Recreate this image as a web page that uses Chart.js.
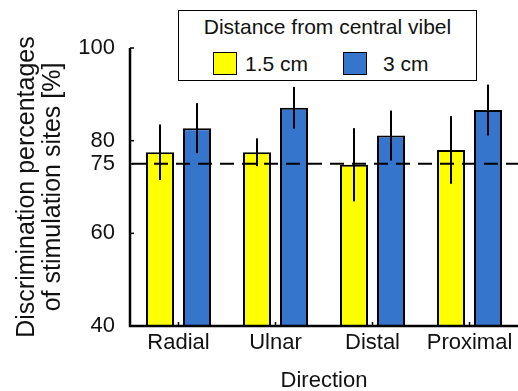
<!DOCTYPE html>
<html>
<head>
<meta charset="utf-8">
<script src="https://cdn.jsdelivr.net/npm/chart.js@4"></script>
<style>
    html, body { margin: 0; padding: 0; background: #fff; }
    #wrap { position: relative; width: 518px; height: 391px; }
    #leyenda {
        position: absolute; left: 178px; top: 10px; width: 299px; height: 71px;
        border: 1.5px solid #000; background: #fff; box-sizing: border-box;
        font-family: Arial, "Liberation Sans", sans-serif; font-size: 21px; color: #111;
    }
    #leyenda .titulo { position: absolute; left: 0; right: 0; top: 4px; text-align: center; }
    #leyenda .item { position: absolute; top: 41px; height: 23px; display: flex; align-items: center; }
    #leyenda .caja { width: 24px; height: 23px; border: 1.5px solid #000; box-sizing: border-box; margin-right: 8px; }
</style>
</head>
<body>
<div id="wrap">
    <canvas id="grafico" width="518" height="391"></canvas>
    <div id="leyenda"></div>
</div>
<script>
// Datos
const direcciones = ['Radial', 'Ulnar', 'Distal', 'Proximal'];
const etiquetasSerie = ['1.5 cm', '3 cm'];
const valores15 = [77.5, 77.5, 74.8, 78.0];
const errores15 = [6.0, 3.0, 7.9, 7.3];
const valores3 = [82.7, 87.1, 81.1, 86.6];
const errores3 = [5.4, 4.5, 5.4, 5.5];
const ticksY = [40, 60, 75, 80, 100];
const umbral = 75;

const colores = ['#ffff00', '#3575cc'];
const fuente = 'Arial, "Liberation Sans", sans-serif';

// Leyenda en HTML (recuadro que se superpone al gráfico)
const leyenda = document.getElementById('leyenda');
leyenda.innerHTML = '<div class="titulo">Distance from central vibel</div>';
const posItems = [34, 164];
etiquetasSerie.forEach((et, i) => {
    leyenda.insertAdjacentHTML('beforeend',
        `<div class="item" style="left:${posItems[i]}px"><span class="caja" style="background:${colores[i]}"></span>` +
        `<span style="margin-left:${i === 1 ? 8 : 0}px">${et}</span></div>`);
});

// Barras de error, línea de umbral y marcas de ejes hacia dentro
const extras = {
    id: 'extras',
    afterDatasetsDraw(chart) {
        const ctx = chart.ctx;
        const y = chart.scales.y;
        const x = chart.scales.x;
        const area = chart.chartArea;
        const errores = [errores15, errores3];
        ctx.save();
        ctx.strokeStyle = '#000';

        // línea discontinua en 75
        ctx.lineWidth = 2;
        ctx.setLineDash([14, 8]);
        const yu = y.getPixelForValue(umbral);
        ctx.beginPath();
        ctx.moveTo(area.left + 2, yu);
        ctx.lineTo(area.right, yu);
        ctx.stroke();
        ctx.setLineDash([]);

        // barras de error
        chart.data.datasets.forEach((ds, i) => {
            chart.getDatasetMeta(i).data.forEach((bar, j) => {
                const v = ds.data[j];
                const e = errores[i][j];
                ctx.beginPath();
                ctx.moveTo(bar.x, y.getPixelForValue(v + e));
                ctx.lineTo(bar.x, y.getPixelForValue(v - e));
                ctx.stroke();
            });
        });

        // ejes
        ctx.lineWidth = 2.5;
        ctx.beginPath();
        ctx.moveTo(area.left, y.getPixelForValue(100));
        ctx.lineTo(area.left, area.bottom);
        ctx.lineTo(area.right, area.bottom);
        ctx.stroke();

        ctx.lineWidth = 1.5;
        ticksY.forEach(t => {
            const py = y.getPixelForValue(t);
            ctx.beginPath();
            ctx.moveTo(area.left, py);
            ctx.lineTo(area.left + 4, py);
            ctx.stroke();
        });
        direcciones.forEach((d, j) => {
            const px = x.getPixelForValue(j);
            ctx.beginPath();
            ctx.moveTo(px, area.bottom);
            ctx.lineTo(px, area.bottom - 4);
            ctx.stroke();
        });
        ctx.restore();
    }
};

new Chart(document.getElementById('grafico'), {
    type: 'bar',
    data: {
        labels: direcciones,
        datasets: [
            { label: etiquetasSerie[0], data: valores15, backgroundColor: colores[0] },
            { label: etiquetasSerie[1], data: valores3, backgroundColor: colores[1] }
        ]
    },
    options: {
        responsive: false,
        animation: false,
        layout: { padding: { top: 48, right: 0, left: 0, bottom: 0 } },
        datasets: {
            bar: {
                borderColor: '#000',
                borderWidth: 2,
                categoryPercentage: 0.763,
                barPercentage: 0.757
            }
        },
        plugins: {
            legend: { display: false },
            tooltip: { enabled: false }
        },
        scales: {
            x: {
                grid: { display: false },
                border: { display: false },
                ticks: { color: '#111', font: { family: fuente, size: 22 }, padding: -4 },
                title: {
                    display: true, text: 'Direction', color: '#111',
                    font: { family: fuente, size: 22 }, padding: { top: 6, bottom: -3 }
                },
                afterFit(scale) { scale.height = 65; }
            },
            y: {
                min: 40,
                max: 100,
                afterBuildTicks(scale) { scale.ticks = ticksY.map(v => ({ value: v })); },
                grid: { display: false },
                border: { display: false },
                ticks: { color: '#111', font: { family: fuente, size: 22 }, padding: 7 },
                title: {
                    display: true,
                    text: ['Discrimination percentages', 'of stimulation sites [%]'],
                    color: '#111',
                    font: { family: fuente, size: 25, lineHeight: 1.05 },
                    padding: { top: 14, bottom: 0 }
                },
                afterFit(scale) { scale.width = 130; }
            }
        }
    },
    plugins: [extras]
});
</script>
</body>
</html>
